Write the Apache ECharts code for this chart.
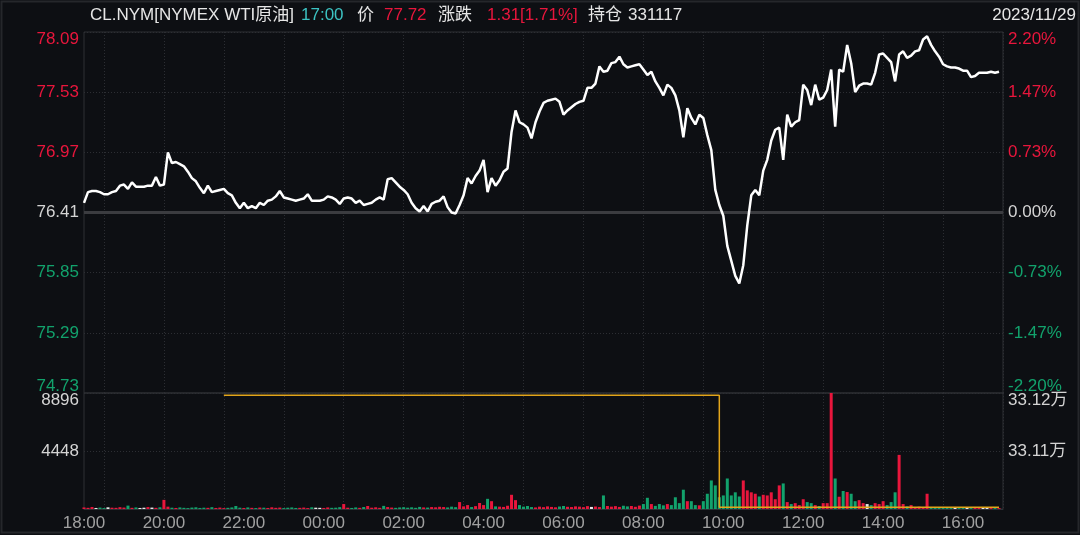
<!DOCTYPE html>
<html><head><meta charset="utf-8">
<script src="https://cdn.jsdelivr.net/npm/echarts@6/dist/echarts.min.js"></script>
<style>html,body{margin:0;padding:0;background:#0d0f13;}#c{width:1080px;height:535px;}</style>
</head><body><div id="c"></div>
<script>
// ---------- data ----------
const symbolName = 'CL.NYM[NYMEX WTI原油]';
const quoteTime = '17:00';
const lastPrice = '77.72';
const changeText = '1.31[1.71%]';
const openInterestText = '331117';
const dateText = '2023/11/29';
const prevClose = 76.41;

const tickLabels = ['18:00','20:00','22:00','00:00','02:00','04:00','06:00','08:00','10:00','12:00','14:00','16:00'];
const priceTickStep = 0.56;     // price grid step
const volumeTicks = [0, 4448, 8896];
const oiTicks = [331000, 331100, 331200];

// 6-minute points from 18:00
const price = [
76.50,76.60,76.61,76.61,76.60,76.58,76.58,76.60,76.61,76.66,
76.67,76.63,76.69,76.65,76.65,76.65,76.66,76.66,76.74,76.66,
76.67,76.97,76.87,76.88,76.86,76.84,76.79,76.73,76.70,76.64,
76.59,76.66,76.60,76.61,76.62,76.63,76.59,76.57,76.50,76.45,
76.50,76.45,76.47,76.45,76.50,76.48,76.52,76.53,76.56,76.61,
76.55,76.54,76.53,76.52,76.53,76.54,76.58,76.52,76.52,76.52,
76.53,76.56,76.55,76.53,76.49,76.54,76.55,76.54,76.50,76.52,
76.48,76.49,76.50,76.53,76.55,76.53,76.72,76.73,76.69,76.65,
76.62,76.58,76.50,76.45,76.42,76.47,76.42,76.49,76.51,76.52,
76.56,76.46,76.41,76.40,76.48,76.57,76.73,76.68,76.75,76.80,
76.90,76.60,76.73,76.66,76.71,76.79,76.82,77.16,77.36,77.25,
77.23,77.20,77.10,77.25,77.35,77.43,77.45,77.46,77.47,77.44,
77.32,77.36,77.39,77.42,77.44,77.45,77.57,77.57,77.61,77.77,
77.72,77.73,77.80,77.81,77.86,77.79,77.76,77.77,77.78,77.79,
77.74,77.69,77.72,77.63,77.57,77.50,77.60,77.57,77.50,77.36,
77.11,77.38,77.29,77.23,77.32,77.29,77.13,76.99,76.62,76.48,
76.38,76.10,75.96,75.82,75.75,75.92,76.29,76.57,76.62,76.57,
76.80,76.90,77.08,77.18,77.20,76.90,77.32,77.21,77.25,77.27,
77.60,77.55,77.41,77.60,77.46,77.48,77.55,77.74,77.21,77.74,
77.72,77.97,77.80,77.53,77.59,77.61,77.61,77.60,77.71,77.88,
77.89,77.85,77.81,77.63,77.88,77.91,77.85,77.87,77.91,77.92,
78.02,78.05,77.97,77.91,77.86,77.79,77.77,77.76,77.76,77.75,
77.73,77.73,77.67,77.68,77.71,77.71,77.71,77.72,77.71,77.72
];

const volume = [
120,90,150,80,110,70,130,100,90,140,
110,260,90,120,80,100,150,110,90,130,
700,180,100,80,120,90,70,110,130,80,
100,90,140,80,110,70,90,120,230,100,
80,120,90,70,110,100,80,130,90,110,
70,100,120,80,90,110,70,130,100,90,
80,120,90,100,140,380,100,80,120,90,
150,230,100,130,90,240,150,110,90,120,
140,100,130,90,160,120,110,150,130,170,
150,120,180,140,530,200,300,150,220,460,
300,780,600,200,180,160,250,1090,680,300,
180,230,150,120,180,140,200,160,130,190,
230,170,150,200,180,140,220,160,190,150,
1040,230,180,220,160,250,200,230,170,260,
380,860,380,240,380,280,380,300,900,450,
1480,600,600,300,280,600,1170,2190,1810,900,
1040,2340,1040,1280,960,2190,1430,1280,1170,960,
1090,1040,1280,750,1810,1960,530,380,450,300,
750,530,450,300,230,450,450,8896,2340,940,
1380,1300,1170,600,680,450,380,300,450,380,
600,300,530,1280,4150,380,200,300,150,180,
120,1170,150,100,130,90,110,140,80,120,
100,90,130,110,80,100,120,90,110,70
];

// open interest change points [time, value]
const openInterest = [['21:30',331196],['09:54',331003],['16:54',331003]];

// ---------- axis categories (every 6 minutes, 18:00 -> 17:00) ----------
const categories = [];
for (let m = 0; m <= 1380; m += 6) {
  const t = (18 * 60 + m) % 1440;
  categories.push(String(Math.floor(t / 60)).padStart(2, '0') + ':' + String(t % 60).padStart(2, '0'));
}

const FONT = "'Liberation Sans', Arial, 'Noto Sans CJK SC', sans-serif";
const RED = '#e8163c', GREEN = '#12a26c', LIGHT = '#d4d4d4', AXISGRAY = '#a0a0a0';
const GRIDC = '#2c2e33', FRAME = '#2e3035';

const step = Math.round(priceTickStep * 100);
const pMin = -3 * step, pMax = 3 * step;   // cents offset from previous close
const priceData = price.map(p => Math.round((p - prevClose) * 100));

function rs(color, pad) { return { color: color, fontSize: 17, fontFamily: FONT, padding: pad }; }
const rich = {
  up: rs(RED, [0,0,0,0]), upT: rs(RED, [14,0,0,0]),
  fl: rs(LIGHT, [0,0,0,0]),
  dn: rs(GREEN, [0,0,0,0]), dnB: rs(GREEN, [0,0,14,0]),
  wt: rs(LIGHT, [0,0,0,0]), wtT: rs(LIGHT, [14,0,0,0])
};
function cls(v) {
  let c = v > 0 ? 'up' : (v < 0 ? 'dn' : 'fl');
  if (v === pMax) c += 'T';
  if (v === pMin) c += 'B';
  return c;
}

const volColors = volume.map((v, i) => {
  const prev = i === 0 ? prevClose : price[i - 1];
  const cur = price[i];
  if (cur === undefined) return LIGHT;
  return cur > prev ? RED : (cur < prev ? GREEN : '#e6e6e6');
});

const splitIdx = (idx) => idx >= 5 && (idx - 5) % 15 === 0;
const labelIdx = (idx) => tickLabels.indexOf(categories[idx]) >= 0;

const chart = echarts.init(document.getElementById('c'), null, { renderer: 'canvas' });
const hdr = (text, x, color, align) => ({
  type: 'text', x: x, y: 15,
  style: { text: text, fill: color, font: "17px 'Liberation Sans', Arial, 'Noto Sans CJK SC', sans-serif",
           textAlign: align || 'left', textVerticalAlign: 'middle', align: align || 'left', verticalAlign: 'middle' }
});

chart.setOption({
  backgroundColor: '#0d0f13',
  animation: false,
  graphic: [
    { type: 'rect', shape: { x: 1.5, y: 1.5, width: 1077, height: 531 }, style: { fill: null, stroke: '#25272b', lineWidth: 2 }, silent: true },
    hdr(symbolName, 90, '#e6e6e6'),
    hdr(quoteTime, 301, '#3cc3c3'),
    hdr('价', 357, '#e6e6e6'),
    hdr(lastPrice, 384, RED),
    hdr('涨跌', 438, '#e6e6e6'),
    hdr(changeText, 487, RED),
    hdr('持仓', 588, '#e6e6e6'),
    hdr(openInterestText, 628, '#e6e6e6'),
    hdr(dateText, 1076, '#e6e6e6', 'right')
  ],
  grid: [
    { left: 84, right: 77, top: 32, height: 361, show: true, borderColor: FRAME, borderWidth: 1, backgroundColor: 'transparent' },
    { left: 84, right: 77, top: 393, height: 116, show: true, borderColor: FRAME, borderWidth: 1, backgroundColor: 'transparent' }
  ],
  xAxis: [
    { type: 'category', gridIndex: 0, data: categories, boundaryGap: false,
      axisLine: { show: false }, axisTick: { show: false }, axisLabel: { show: false },
      splitLine: { show: true, interval: (i) => splitIdx(i), lineStyle: { color: GRIDC, type: [1, 2], width: 1 } } },
    { type: 'category', gridIndex: 1, data: categories, boundaryGap: false,
      axisLine: { show: true, lineStyle: { color: FRAME } }, axisTick: { show: false },
      axisLabel: { show: true, interval: (i) => labelIdx(i), color: AXISGRAY, fontSize: 17, fontFamily: FONT, margin: 6 },
      splitLine: { show: true, interval: (i) => splitIdx(i), lineStyle: { color: GRIDC, type: [1, 2], width: 1 } } }
  ],
  yAxis: [
    { type: 'value', gridIndex: 0, position: 'left', min: pMin, max: pMax, interval: step,
      axisLine: { show: false }, axisTick: { show: false },
      axisLabel: { margin: 5, formatter: (v) => '{' + cls(v) + '|' + ((Math.round(prevClose * 100) + v) / 100).toFixed(2) + '}', rich: rich },
      splitLine: { show: true, lineStyle: { color: GRIDC, type: [1, 2], width: 1 } } },
    { type: 'value', gridIndex: 0, position: 'right', min: pMin, max: pMax, interval: step,
      axisLine: { show: false }, axisTick: { show: false },
      axisLabel: { margin: 5, formatter: (v) => '{' + cls(v) + '|' + (v / prevClose).toFixed(2) + '%}', rich: rich },
      splitLine: { show: false } },
    { type: 'value', gridIndex: 1, position: 'left', min: volumeTicks[0], max: volumeTicks[2], interval: volumeTicks[1] - volumeTicks[0],
      axisLine: { show: false }, axisTick: { show: false },
      axisLabel: { margin: 5, showMinLabel: false, formatter: (v) => (v === volumeTicks[2] ? '{wtT|' : '{wt|') + v + '}', rich: rich },
      splitLine: { show: true, lineStyle: { color: GRIDC, type: [1, 2], width: 1 } } },
    { type: 'value', gridIndex: 1, position: 'right', min: oiTicks[0], max: oiTicks[2], interval: oiTicks[1] - oiTicks[0],
      axisLine: { show: false }, axisTick: { show: false },
      axisLabel: { margin: 5, showMinLabel: false, formatter: (v) => (v === oiTicks[2] ? '{wtT|' : '{wt|') + (v / 10000).toFixed(2) + '万}', rich: rich },
      splitLine: { show: false } }
  ],
  series: [
    { type: 'line', xAxisIndex: 0, yAxisIndex: 0, data: priceData, symbol: 'none', smooth: false,
      lineStyle: { color: '#ffffff', width: 2.5 }, z: 5,
      markLine: { silent: true, symbol: 'none', label: { show: false }, z: 2,
        lineStyle: { color: '#3b3c40', width: 3, type: 'solid' }, data: [{ yAxis: 0 }] } },
    { type: 'bar', xAxisIndex: 1, yAxisIndex: 2, barWidth: 3,
      data: volume.map((v, i) => ({ value: v, itemStyle: { color: volColors[i] } })), z: 3 },
    { type: 'line', xAxisIndex: 1, yAxisIndex: 3, data: openInterest, step: 'end', symbol: 'none',
      lineStyle: { color: '#e2a51b', width: 1.5 }, z: 4 }
  ]
});
</script></body></html>
